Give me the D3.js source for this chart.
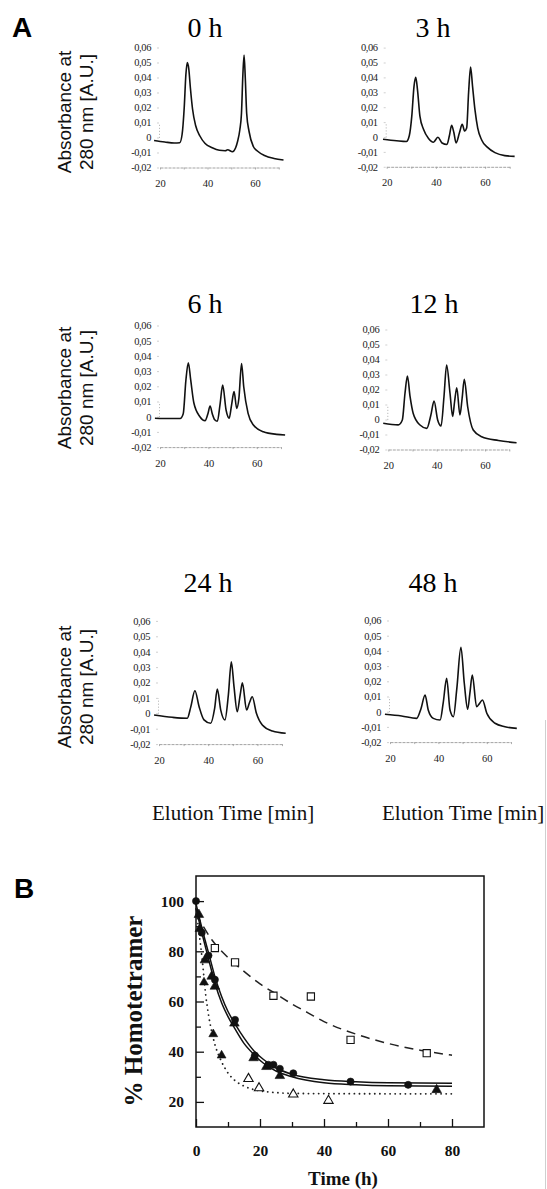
<!DOCTYPE html>
<html><head><meta charset="utf-8">
<script src="https://cdn.jsdelivr.net/npm/d3@7"></script>
<style>body{margin:0;background:#fff}svg{display:block}</style>
</head><body><svg id="c" width="547" height="1189"></svg>
<script>
// ---------- DATA: panel A (elution time [min], absorbance [A.U.]) ----------
const timeLabels = ["0 h", "3 h", "6 h", "12 h", "24 h", "48 h"];
const elutionTicks = [20, 30, 40, 50, 60, 70];
const elutionLabels = [20, 40, 60];
const absTicks = [0.06, 0.05, 0.04, 0.03, 0.02, 0.01, 0, -0.01, -0.02];

const trace0h = [[17.5,-0.002],[22,-0.003],[26,-0.0037],[28.3,-0.0035],[29.3,0.002],[30.2,0.02],[30.9,0.042],[31.5,0.050],[32.1,0.046],[32.8,0.033],[33.7,0.019],[35,0.008],[36.8,0.001],[39,-0.004],[42,-0.0068],[45,-0.0085],[47.5,-0.0088],[48.5,-0.0082],[50.5,-0.0095],[51.8,-0.007],[52.6,-0.003],[53.6,0.005],[54.3,0.016],[54.9,0.042],[55.4,0.055],[55.9,0.040],[56.5,0.016],[57.5,0.004],[59.3,-0.006],[61,-0.009],[64,-0.012],[68,-0.014],[72,-0.015]];
const trace3h = [[18.5,-0.0015],[24,-0.0025],[28,-0.003],[29.2,0.001],[30.2,0.014],[31.1,0.034],[31.8,0.040],[32.5,0.032],[33.5,0.014],[35,0.005],[37,-0.001],[39,-0.0035],[40.8,-0.0002],[42.5,-0.004],[44.5,-0.005],[45.5,0.001],[46.4,0.0078],[47.3,0.003],[48.2,-0.004],[49.6,0.003],[50.7,0.0085],[51.7,0.004],[52.5,0.006],[53.3,0.030],[54.1,0.047],[54.9,0.034],[55.9,0.018],[57,0.006],[58.6,-0.002],[61,-0.007],[64,-0.0105],[68,-0.0125],[72,-0.013]];
const trace6h = [[17.9,-0.001],[24,-0.0012],[28.3,-0.0012],[29.6,0.002],[30.7,0.024],[31.7,0.0355],[32.7,0.024],[34,0.009],[36.5,0.000],[38.6,-0.0026],[39.8,0.002],[40.7,0.007],[41.6,0.002],[42.6,-0.002],[43.7,-0.003],[44.8,0.008],[45.9,0.0208],[47.3,0.0044],[48.6,-0.001],[49.6,0.008],[50.6,0.0165],[51.7,0.0055],[52.6,0.012],[53.7,0.035],[54.6,0.0197],[56.4,0.0022],[58.6,-0.0055],[62.7,-0.0099],[68.2,-0.0116],[71.7,-0.012]];
const trace12h = [[17.9,-0.0025],[24.1,-0.0036],[25.8,-0.0003],[26.9,0.0175],[27.9,0.029],[29,0.0152],[30.3,0.004],[33.1,-0.0037],[35.9,-0.0059],[37.6,0.003],[38.9,0.0123],[40.4,-0.0003],[41.8,-0.0043],[43,0.015],[44.1,0.0363],[45.5,0.0175],[46.6,0.002],[47.4,0.012],[48.3,0.0212],[49.6,0.003],[50.5,0.014],[51.4,0.0268],[52.8,0.0085],[55.1,-0.007],[58.6,-0.0115],[65.5,-0.014],[73,-0.0155]];
const trace24h = [[18,-0.0011],[25.4,-0.0026],[31.5,-0.0032],[32.9,0.004],[34.6,0.0146],[36.3,0.0043],[38.3,-0.0043],[41,-0.0065],[42.6,0.003],[43.7,0.0157],[45.1,0.0021],[46.8,-0.0043],[48.2,0.012],[49.4,0.0334],[50.5,0.0172],[51.8,0.001],[53,0.012],[53.9,0.0198],[55.6,0.0021],[56.8,0.007],[57.9,0.0107],[59.6,0.000],[62,-0.0076],[66.1,-0.0115],[71.5,-0.013]];
const trace48h = [[17.9,-0.0017],[24.8,-0.0028],[31,-0.0044],[32.8,0.002],[34.5,0.011],[35.8,0.0011],[37.9,-0.0044],[40.7,-0.0055],[42,0.006],[43.4,0.022],[44.8,0.0011],[46.2,-0.0033],[47.6,0.015],[49.3,0.0424],[50.7,0.0187],[52.1,0.0016],[53,0.012],[54,0.0241],[55.8,0.0033],[56.8,0.005],[58.2,0.0077],[60,-0.001],[63.4,-0.0076],[67.5,-0.0099],[72.4,-0.011]];

// ---------- DATA: panel B (time [h], % homotetramer) ----------
const timeTicksMajor = [0, 20, 40, 60, 80];
const timeTicksMinor = [10, 30, 50, 70];
const pctTicksMajor = [20, 40, 60, 80, 100];
const pctTicksMinor = [30, 50, 70, 90];

const filledCircles = [[0,100],[1.8,87.4],[3.9,78.3],[5.9,68.7],[12.2,52.7],[18.4,38.5],[22.6,34.8],[24.2,34.8],[26.2,33.2],[30.4,31.4],[48.3,28.1],[66.3,26.8]];
const filledTriangles = [[0.9,94.6],[1.2,89],[2.8,76.5],[4.9,70],[5.9,66],[12,51.3],[18,37.5],[22,34],[26.2,30.4],[75.2,24.8]];
const fastFilledTriangles = [[2.5,67.6],[5.4,47],[8.0,38.5]];
const openTriangles = [[16.4,29.2],[19.7,25.5],[30.4,23],[41.4,20.5]];
const openSquares = [[5.9,81.3],[12.2,75.6],[24.2,62.3],[35.9,62],[48.3,44.7],[72.1,39.4]];

const fitDashed = [[0,95],[5,84.5],[10,77.5],[15,72],[20,67],[25,63],[30,59],[35,55.5],[40,52],[50,47],[60,43.3],[70,40.6],[80,38.6]];
const fitSolidUpper = [[0,99],[2,88.5],[4,79],[6,69.5],[8,62],[10,56],[12,51.5],[15,45.5],[18,40.5],[21,37],[25,33.5],[30,31],[40,28.8],[50,28],[60,27.6],[80,27.4]];
const fitSolidLower = [[0,97],[2,86.5],[4,76.5],[6,67],[8,59.5],[10,54],[12,49.5],[15,43.3],[18,39],[21,35.5],[25,32.3],[30,30],[40,27.6],[50,26.8],[60,26.4],[80,26.2]];
const fitDotted = [[0,97],[1,87],[2,76],[3,63],[4,54],[5,47.5],[6,42.5],[8,36],[10,31.5],[12,28.7],[15,26.3],[20,24.4],[25,23.7],[30,23.4],[40,23.3],[80,23.2]];

// ---------- DRAWING ----------
const svg = d3.select("#c");
const serif = "'Liberation Serif','Times New Roman',serif";
const sans = "'Liberation Sans',Arial,sans-serif";

svg.append("text").attr("x", 12).attr("y", 37).attr("font-family", sans)
  .attr("font-weight", "bold").attr("font-size", 28).text("A");

const traces = [trace0h, trace3h, trace6h, trace12h, trace24h, trace48h];
const layout = [
  {x20:160,   k:2.375, y0:137.5, s:15,   tx:205, ty:37},
  {x20:386.7, k:2.46,  y0:137,   s:14.9, tx:433, ty:37},
  {x20:160,   k:2.42,  y0:416.7, s:15.2, tx:205, ty:313},
  {x20:388.3, k:2.42,  y0:419.5, s:15,   tx:434, ty:313},
  {x20:159,   k:2.46,  y0:713.3, s:15.4, tx:208, ty:592},
  {x20:390,   k:2.42,  y0:711.7, s:15.2, tx:433, ty:592}
];
const fmtAbs = v => v === 0 ? "0" : v.toFixed(2).replace(".", ",");

traces.forEach((tr, i) => {
  const L = layout[i];
  const x = d3.scaleLinear().domain([20, 70]).range([L.x20, L.x20 + 50 * L.k]);
  const y = d3.scaleLinear().domain([0, 0.01]).range([L.y0, L.y0 - L.s]);
  const g = svg.append("g");

  g.append("text").attr("x", L.tx).attr("y", L.ty).attr("text-anchor", "middle")
    .attr("font-family", serif).attr("font-size", 28).text(timeLabels[i]);

  const ya = g.append("g").attr("transform", `translate(${L.x20 - 1},0)`)
    .call(d3.axisLeft(y).tickValues(absTicks).tickFormat(fmtAbs).tickSize(2).tickPadding(6).tickSizeOuter(0));
  ya.select(".domain").attr("stroke", "#aaa").attr("stroke-width", 0.8).attr("stroke-dasharray", "1.2,1.8");
  ya.selectAll(".tick line").attr("stroke", "#bbb").attr("stroke-width", 0.7);
  ya.selectAll("text").attr("font-family", serif).attr("font-size", 10.5)
    .attr("letter-spacing", -0.4).attr("fill", "#222");

  const xa = g.append("g").attr("transform", `translate(0,${y(-0.02)})`)
    .call(d3.axisBottom(x).tickValues(elutionTicks)
      .tickFormat(v => elutionLabels.includes(v) ? String(v) : "")
      .tickSize(2).tickPadding(10).tickSizeOuter(0));
  xa.select(".domain").attr("stroke", "#999").attr("stroke-width", 0.9).attr("stroke-dasharray", "3,1");
  xa.selectAll(".tick line").attr("stroke", "#999").attr("stroke-width", 0.8);
  xa.selectAll("text").attr("font-family", serif).attr("font-size", 10.5).attr("fill", "#222");

  g.append("path").datum(tr)
    .attr("d", d3.line().x(d => x(d[0])).y(d => y(d[1])).curve(d3.curveMonotoneX))
    .attr("fill", "none").attr("stroke", "#111").attr("stroke-width", 1.6)
    .attr("stroke-linejoin", "round");
});

// y titles for panel A rows
[112, 388, 687].forEach(cy => {
  svg.append("text").attr("transform", `translate(71,${cy}) rotate(-90)`)
    .attr("text-anchor", "middle").attr("font-family", sans).attr("font-size", 19)
    .attr("fill", "#111").text("Absorbance at");
  svg.append("text").attr("transform", `translate(93,${cy}) rotate(-90)`)
    .attr("text-anchor", "middle").attr("font-family", sans).attr("font-size", 19)
    .attr("fill", "#111").text("280 nm [A.U.]");
});
[152, 382].forEach(xx => {
  svg.append("text").attr("x", xx).attr("y", 820).attr("font-family", serif)
    .attr("font-size", 21).attr("fill", "#111").text("Elution Time [min]");
});

// ---------- Panel B ----------
svg.append("text").attr("x", 14).attr("y", 898).attr("font-family", sans)
  .attr("font-weight", "bold").attr("font-size", 28).text("B");

const xB = d3.scaleLinear().domain([0, 90]).range([196, 484]);
const yB = d3.scaleLinear().domain([10, 110]).range([1127, 876]);
const gB = svg.append("g");

const styleAxis = (sel, showText) => {
  sel.select(".domain").remove();
  sel.selectAll(".tick line").attr("stroke", "#111").attr("stroke-width", 1.3);
  sel.selectAll("text").attr("font-family", serif).attr("font-weight", "bold")
    .attr("font-size", 15.5).attr("fill", "#111");
  if (!showText) sel.selectAll("text").remove();
};
styleAxis(gB.append("g").attr("transform", "translate(0,1127)")
  .call(d3.axisBottom(xB).tickValues(timeTicksMajor).tickSize(-8).tickPadding(18)), true);
styleAxis(gB.append("g").attr("transform", "translate(0,1127)")
  .call(d3.axisBottom(xB).tickValues(timeTicksMinor).tickSize(-5)), false);
styleAxis(gB.append("g").attr("transform", "translate(196,0)")
  .call(d3.axisLeft(yB).tickValues(pctTicksMajor).tickSize(-8).tickPadding(12)), true);
styleAxis(gB.append("g").attr("transform", "translate(196,0)")
  .call(d3.axisLeft(yB).tickValues(pctTicksMinor).tickSize(-5)), false);

gB.append("rect").attr("x", xB(0)).attr("y", yB(110))
  .attr("width", xB(90) - xB(0)).attr("height", yB(10) - yB(110))
  .attr("fill", "none").attr("stroke", "#111").attr("stroke-width", 1.5);

const lineB = d3.line().x(d => xB(d[0])).y(d => yB(d[1])).curve(d3.curveMonotoneX);
gB.append("path").datum(fitDashed).attr("d", lineB).attr("fill", "none")
  .attr("stroke", "#222").attr("stroke-width", 1.5).attr("stroke-dasharray", "9,6");
gB.append("path").datum(fitSolidUpper).attr("d", lineB).attr("fill", "none")
  .attr("stroke", "#111").attr("stroke-width", 1.5);
gB.append("path").datum(fitSolidLower).attr("d", lineB).attr("fill", "none")
  .attr("stroke", "#111").attr("stroke-width", 1.5);
gB.append("path").datum(fitDotted).attr("d", lineB).attr("fill", "none")
  .attr("stroke", "#222").attr("stroke-width", 1.8).attr("stroke-linecap", "round")
  .attr("stroke-dasharray", "0.1,5");

const addMarks = (data, type, size, filled) => {
  gB.selectAll(null).data(data).enter().append("path")
    .attr("transform", d => `translate(${xB(d[0])},${yB(d[1])})`)
    .attr("d", d3.symbol().type(type).size(size))
    .attr("fill", filled ? "#111" : "#fff")
    .attr("stroke", "#111").attr("stroke-width", filled ? 0.6 : 1.1);
};
addMarks(openSquares, d3.symbolSquare, 52, false);
addMarks(openTriangles, d3.symbolTriangle, 38, false);
addMarks(fastFilledTriangles, d3.symbolTriangle, 34, true);
addMarks(filledTriangles, d3.symbolTriangle, 40, true);
addMarks(filledCircles, d3.symbolCircle, 40, true);

svg.append("text").attr("transform", `translate(142,1011) rotate(-90)`)
  .attr("text-anchor", "middle").attr("font-family", serif).attr("font-weight", "bold")
  .attr("font-size", 25).attr("fill", "#111").text("% Homotetramer");
svg.append("text").attr("x", 343).attr("y", 1185).attr("text-anchor", "middle")
  .attr("font-family", serif).attr("font-weight", "bold").attr("font-size", 19)
  .attr("fill", "#111").text("Time (h)");

// scan edge artifact on right
svg.append("line").attr("x1", 545.5).attr("x2", 545.5).attr("y1", 720).attr("y2", 1189)
  .attr("stroke", "#cfcfcf").attr("stroke-width", 1);
</script>
</body></html>
